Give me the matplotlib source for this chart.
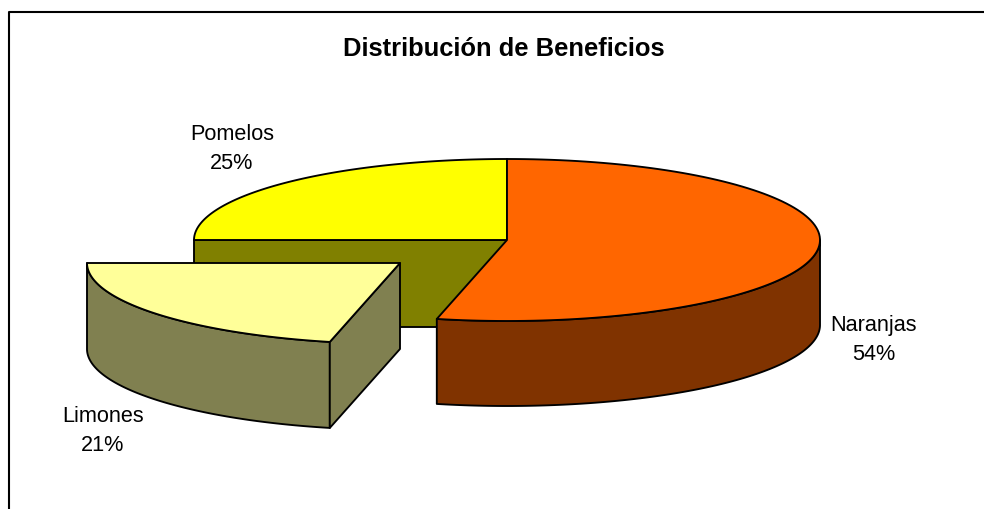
"""Distribución de Beneficios: exploded 3D-style pie drawn from polygons."""

import matplotlib
matplotlib.use("Agg")
import matplotlib.pyplot as plt
import numpy as np

plt.rcParams["font.family"] = ["Liberation Sans", "DejaVu Sans"]

# ── data ──────────────────────────────────────────────────────
categories = ["Naranjas", "Limones", "Pomelos"]
shares = [53.6, 21.4, 25.0]

# ── colour palette ────────────────────────────────────────────
TOP_COLORS = ["#ff6600", "#ffff99", "#ffff00"]
SIDE_COLORS = ["#803300", "#808050", "#808000"]

# ── pie geometry, in figure pixels ────────────────────────────
CENTER = (507, 240)
RX, RY = 313, 81
DEPTH = 85
EXPLODE = (-107, 23)
LINE = 1.35

LABEL_POS = [(874, 340), (103, 431), (232, 149)]


def rim(cx, cy, start, end, dy=0):
    """Points on the ellipse, angles clockwise from 12 o'clock in degrees."""
    t = np.radians(np.linspace(start, end, 120))
    return np.column_stack([cx + RX * np.sin(t), cy + dy + RY * np.cos(t) * -1])


def poly(ax, pts, color, z):
    ax.fill(pts[:, 0], pts[:, 1], facecolor=color, edgecolor="black",
            linewidth=LINE, joinstyle="round", zorder=z)


fig = plt.figure(figsize=(9.84, 5.09), dpi=100, facecolor="white")
ax = fig.add_axes([0, 0, 1, 1])
ax.set_xlim(0, 984)
ax.set_ylim(509, 0)
ax.axis("off")

# chart frame runs off the right and bottom edges
ax.plot([8.5, 8.5, 990], [515, 11.5, 11.5], color="black", linewidth=1.5, zorder=1)

# cumulative angles, clockwise from the top
bounds = np.concatenate([[0], np.cumsum(shares)]) * 3.6
cx, cy = CENTER

# Pomelos: cut wall behind the exploded slice, then its top
pom_start, pom_end = bounds[2], bounds[3]
wall = np.array([[cx - RX, cy], [cx, cy], [cx, cy + DEPTH + 2], [cx - RX, cy + DEPTH + 2]])
poly(ax, wall, SIDE_COLORS[2], 2)
poly(ax, np.vstack([[cx, cy], rim(cx, cy, pom_start, pom_end)]), TOP_COLORS[2], 3)

# Naranjas: outer side (only the front half shows), then top
nar_start, nar_end = bounds[0], bounds[1]
front = rim(cx, cy, 90, nar_end)
poly(ax, np.vstack([front, rim(cx, cy, 90, nar_end, DEPTH)[::-1]]), SIDE_COLORS[0], 4)
poly(ax, np.vstack([[cx, cy], rim(cx, cy, nar_start, nar_end)]), TOP_COLORS[0], 5)

# Limones: moved out of the pie, outer side, cut face, top
lx, ly = cx + EXPLODE[0], cy + EXPLODE[1]
lim_start, lim_end = bounds[1], bounds[2]
edge = rim(lx, ly, lim_start, lim_end)
poly(ax, np.vstack([edge, rim(lx, ly, lim_start, lim_end, DEPTH + 1)[::-1]]), SIDE_COLORS[1], 6)
cut = np.array([edge[0], [lx, ly], [lx, ly + DEPTH + 1], edge[0] + [0, DEPTH + 1]])
poly(ax, cut, SIDE_COLORS[1], 7)
poly(ax, np.vstack([[lx, ly], edge]), TOP_COLORS[1], 8)

ax.text(504, 49, "Distribución de Beneficios", ha="center", va="center",
        fontsize=18.4, fontweight="bold", color="black")

for name, share, (x, y) in zip(categories, shares, LABEL_POS):
    ax.text(x, y, f"{name}\n{share:.0f}%", ha="center", va="center",
            fontsize=15.6, linespacing=1.5, color="black", zorder=9)

fig.savefig("out.png", dpi=100, facecolor="white")
plt.close(fig)
